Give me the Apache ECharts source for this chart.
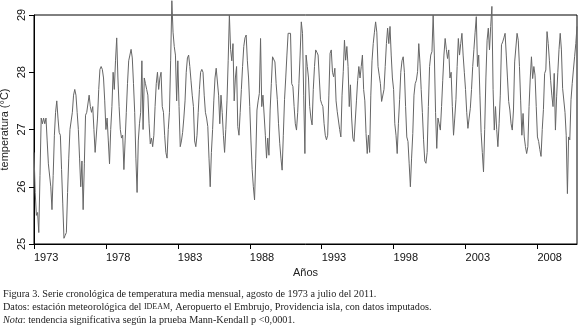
<!DOCTYPE html>
<html>
<head>
<meta charset="utf-8">
<script src="https://cdn.jsdelivr.net/npm/echarts@6/dist/echarts.min.js"></script>
<style>
    html, body { margin: 0; padding: 0; background: #fff; }
    #chart { width: 579px; height: 334px; }
</style>
</head>
<body>
<div id="chart"></div>
<script>
// serie mensual, agosto 1973 - julio 2011
var startYear = 1973;
var yearTicks = [1973, 1978, 1983, 1988, 1993, 1998, 2003, 2008];
var tempTicks = [25, 26, 27, 28, 29];
var temps = [
    26.6, 25.9, 25.5, 25.55, 25.2, 26.2, 27.2, 27.1, 27.2, 27.1, 27.2, 26.8,
    26.4, 26.4, 26.0, 25.6, 26.2, 26.9, 27.3, 27.5, 27.2, 26.95, 26.9, 26.3,
    25.7, 25.1, 25.15, 25.2, 25.9, 26.5, 27.0, 27.0, 27.3, 27.6, 27.7, 27.6,
    27.3, 27.0, 26.5, 26.0, 26.45, 25.6, 26.4, 27.25, 27.3, 27.3, 27.6, 27.4,
    27.3, 27.4, 27.0, 26.6, 26.6, 27.2, 27.7, 28.05, 28.1, 28.05, 27.9, 27.5,
    27.0, 27.2, 26.8, 26.4, 27.0, 27.4, 28.0, 27.7, 28.2, 28.6, 27.9, 27.4,
    27.0, 26.85, 26.9, 26.3, 26.8, 27.3, 27.8, 28.2, 28.3, 28.4, 28.25, 27.8,
    27.3, 26.5, 25.9, 26.8, 27.1, 27.3, 28.2, 27.0, 27.9, 27.8, 27.7, 27.6,
    27.1, 26.75, 26.85, 26.7, 26.9, 27.4, 27.8, 28.0, 27.7, 27.9, 28.0, 27.4,
    27.3, 26.9, 26.6, 26.5, 27.0, 27.3, 28.2, 29.25, 28.7, 28.45, 28.3, 27.5,
    28.2, 27.4, 26.7, 26.8, 26.95, 27.2, 27.5, 28.0, 28.25, 28.3, 28.1, 27.85,
    27.6, 27.4, 26.8, 26.7, 26.9, 27.3, 27.7, 28.0, 28.05, 28.0, 27.6, 27.3,
    27.2, 27.05, 26.5, 26.0, 26.6, 27.0, 27.5, 27.9, 28.07, 28.05, 27.6, 27.1,
    27.6, 27.3, 26.9, 26.6, 27.0, 27.5, 28.2, 29.0, 28.4, 28.2, 28.5, 27.5,
    27.9, 28.1, 27.05, 26.9, 27.3, 27.7, 28.1, 28.45, 28.6, 28.65, 28.2, 27.9,
    27.4, 26.8, 26.3, 26.0, 25.77, 26.5, 27.34, 27.5, 27.63, 28.59, 27.4, 27.6,
    27.57, 26.9, 26.5, 26.85, 26.55, 27.34, 27.8, 28.27, 28.25, 28.18, 27.8, 27.52,
    27.1, 26.76, 26.5, 26.29, 26.9, 27.52, 27.9, 28.3, 28.68, 28.7, 28.68, 27.8,
    27.75, 27.4, 27.1, 26.99, 27.3, 27.8, 28.3, 28.88, 28.68, 27.6, 26.58, 28.3,
    28.1, 27.9, 27.4, 27.2, 27.08, 27.7, 28.1, 28.39, 28.35, 28.3, 27.9, 27.52,
    27.45, 27.4, 27.1, 26.9, 26.82, 26.9, 27.6, 28.33, 28.39, 28.0, 27.92, 28.07,
    27.5, 27.31, 27.28, 27.0, 26.87, 27.6, 28.01, 28.56, 28.21, 28.45, 28.1, 27.4,
    27.78, 27.2, 26.85, 26.79, 26.82, 27.5, 27.86, 28.1, 27.9, 28.1, 28.3, 27.7,
    27.5, 26.93, 26.58, 26.9, 26.6, 27.6, 28.2, 28.5, 28.7, 28.88, 28.7, 28.1,
    27.95, 27.8, 27.49, 27.49, 27.7, 28.1, 28.5, 28.77, 28.5, 28.8, 28.3, 27.9,
    27.7, 27.1, 26.9, 26.58, 27.1, 27.52, 28.0, 28.2, 28.27, 28.0, 27.4, 26.87,
    26.79, 26.4, 26.0, 26.5, 26.93, 27.6, 27.8, 27.86, 28.01, 28.5, 28.16, 27.7,
    27.3, 26.82, 26.45, 26.41, 26.6, 27.4, 28.1, 28.3, 28.36, 29.0, 28.3, 27.3,
    26.67, 27.2, 27.1, 26.99, 27.4, 27.86, 28.3, 28.59, 28.4, 28.24, 28.39, 27.9,
    28.0, 27.4, 26.9, 27.2, 27.52, 28.1, 28.59, 28.3, 28.5, 28.68, 28.3, 28.0,
    27.7, 27.3, 27.02, 27.2, 27.37, 27.7, 28.1, 28.4, 28.7, 28.97, 28.1, 28.3,
    27.6, 26.95, 26.6, 26.26, 27.0, 27.9, 28.56, 28.77, 28.39, 28.8, 29.15, 27.7,
    26.99, 27.4, 27.0, 26.7, 27.1, 27.6, 28.48, 28.53, 28.6, 28.68, 28.3, 27.9,
    27.49, 27.34, 27.1, 26.99, 27.34, 28.18, 28.21, 28.68, 28.56, 28.1, 27.5, 26.9,
    27.28, 26.87, 26.7, 26.58, 26.7, 27.4, 27.9, 28.27, 27.89, 28.1, 27.95, 27.4,
    26.87, 26.79, 26.65, 26.53, 27.0, 27.35, 27.98, 28.04, 28.71, 28.5, 28.2, 27.86,
    27.6, 27.4, 27.98, 26.99, 27.57, 28.0, 28.4, 28.68, 28.39, 27.72, 27.69, 27.3,
    26.9, 25.88, 26.87, 26.82, 27.52, 27.8, 28.04, 28.27, 28.5, 28.8
];

var seriesData = temps.map(function (v, i) {
    return [startYear + i / 12, v];
});
var lastYear = startYear + (temps.length - 1) / 12;

var tickFont = '"Liberation Sans Narrow", "Liberation Sans", Arial, sans-serif';
var capFont = '"Liberation Serif", "DejaVu Serif", serif';

var myChart = echarts.init(document.getElementById('chart'));
var option = {
    backgroundColor: '#fff',
    animation: false,
    grid: {
        left: 34,
        right: 2,
        top: 15,
        bottom: 90,
        containLabel: false,
        outerBoundsMode: 'none',
        show: true,
        borderColor: '#000',
        borderWidth: 1
    },
    xAxis: {
        type: 'value',
        min: startYear,
        max: lastYear,
        name: 'Años',
        nameLocation: 'middle',
        nameGap: 23,
        nameMoveOverlap: false,
        nameTextStyle: { fontFamily: tickFont, fontSize: 11, color: '#222' },
        axisLine: { lineStyle: { color: '#000', width: 1 } },
        axisTick: { customValues: yearTicks, length: 5, lineStyle: { color: '#000' } },
        axisLabel: {
            customValues: yearTicks, margin: 8, align: 'left',
            fontFamily: tickFont, fontSize: 11, color: '#111',
            formatter: function (v) { return String(v); }
        },
        splitLine: { show: false }
    },
    yAxis: {
        type: 'value',
        min: 25,
        max: 29,
        interval: 1,
        name: 'temperatura (°C)',
        nameLocation: 'middle',
        nameGap: 24,
        nameMoveOverlap: false,
        nameTextStyle: { fontFamily: tickFont, fontSize: 11, color: '#222' },
        axisLine: { show: true, lineStyle: { color: '#000', width: 1 } },
        axisTick: { show: true, customValues: tempTicks, length: 5, lineStyle: { color: '#000' } },
        axisLabel: { rotate: 90, margin: 7, fontFamily: tickFont, fontSize: 11, color: '#111' },
        splitLine: { show: false }
    },
    series: [{
        name: 'temperatura',
        type: 'line',
        data: seriesData,
        symbol: 'none',
        clip: false,
        lineStyle: { color: '#666', width: 1 }
    }],
    graphic: [
        {
            type: 'text', left: 3, top: 289,
            style: {
                text: 'Figura 3. Serie cronológica de temperatura media mensual, agosto de 1973 a julio del 2011.',
                font: '10.2px ' + capFont, fill: '#222'
            }
        },
        {
            type: 'text', left: 3, top: 302,
            style: {
                text: '{t|Datos: estación meteorológica del }{sc|IDEAM}{t|, Aeropuerto el Embrujo, Providencia isla, con datos imputados.}',
                fill: '#222',
                rich: {
                    t: { fontSize: 10.2, fontFamily: capFont, fill: '#222', lineHeight: 12, verticalAlign: 'bottom' },
                    sc: { fontSize: 8, fontFamily: capFont, fill: '#222', lineHeight: 12, verticalAlign: 'bottom', padding: [0, 0, 1, 0] }
                }
            }
        },
        {
            type: 'text', left: 3, top: 315,
            style: {
                text: '{it|Nota}: tendencia significativa según la prueba Mann-Kendall p <0,0001.',
                font: '10.2px ' + capFont, fill: '#222',
                rich: { it: { fontStyle: 'italic', fontSize: 10.2, fontFamily: capFont, fill: '#222' } }
            }
        }
    ]
};
myChart.setOption(option);
</script>
</body>
</html>
